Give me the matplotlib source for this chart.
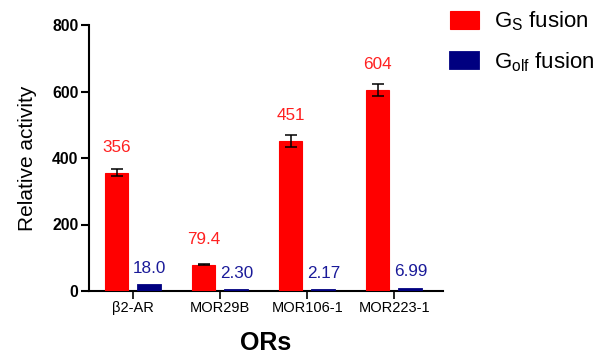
import matplotlib
matplotlib.use("Agg")
import matplotlib.pyplot as plt
import numpy as np

# Receptor constructs and measured activities
receptors = ["\u03b22-AR", "MOR29B", "MOR106-1", "MOR223-1"]
gs_values = [356, 79.4, 451, 604]
gs_errors = [10, 2, 17, 18]
golf_values = [18.0, 2.30, 2.17, 6.99]
gs_labels = ["356", "79.4", "451", "604"]
golf_labels = ["18.0", "2.30", "2.17", "6.99"]
yticks = [0, 200, 400, 600, 800]

plt.rcParams["font.family"] = ["Liberation Sans", "DejaVu Sans"]
plt.rcParams["mathtext.fontset"] = "custom"
plt.rcParams["mathtext.rm"] = "Liberation Sans"

RED = "#ff0000"
NAVY = "#000080"

fig = plt.figure(figsize=(5.97, 3.55), dpi=100)
ax = fig.add_axes([89 / 597, 1 - 291 / 355, (443 - 89) / 597, (291 - 25) / 355])

x = np.arange(len(receptors))
w = 0.265
off = 0.19

ax.bar(x - off, gs_values, w, color=RED, edgecolor=RED, linewidth=0.8,
       label=r"G$_\mathregular{S}$ fusion", zorder=3)
ax.bar(x + off, golf_values, w, color=NAVY, edgecolor=NAVY, linewidth=1.3,
       label=r"G$_\mathregular{olf}$ fusion", zorder=3)
ax.errorbar(x - off, gs_values, yerr=gs_errors, fmt="none", ecolor="black",
            elinewidth=1.1, capsize=4.6, capthick=1.1, zorder=4)

# value annotations above the bars
for xi, v, t in zip(x - off, gs_values, gs_labels):
    ax.annotate(t, (xi, v), xytext=(0, 15), textcoords="offset points",
                ha="center", va="baseline", color="#ff2020", fontsize=12.3)
for xi, v, t in zip(x + off, golf_values, golf_labels):
    ax.annotate(t, (xi, v), xytext=(0, 9), textcoords="offset points",
                ha="center", va="baseline", color="#1a1a99", fontsize=12.3)

ax.set_xlim(-0.51, 3.56)
ax.set_ylim(0, 800)
ax.set_yticks(yticks)
ax.set_xticks(x)
ax.set_xticklabels(receptors, fontsize=10.5)
for lab in ax.get_yticklabels():
    lab.set_fontweight("bold")
    lab.set_fontsize(11.3)

for side in ("top", "right"):
    ax.spines[side].set_visible(False)
for side in ("left", "bottom"):
    ax.spines[side].set_linewidth(1.5)
    ax.spines[side].set_zorder(2)
ax.tick_params(axis="y", length=6, width=1.5, pad=1.5)
ax.tick_params(axis="x", length=5.5, width=1.2, pad=2)

ax.set_ylabel("Relative activity", fontsize=15, labelpad=11)
ax.set_xlabel("ORs", fontsize=18, fontweight="bold", labelpad=11)

ax.legend(loc="upper left", bbox_to_anchor=(441 / 597, 1 - 1 / 355),
          bbox_transform=fig.transFigure, frameon=False, fontsize=16,
          handlelength=1.3, handleheight=0.85, handletextpad=0.7,
          labelspacing=0.75, borderaxespad=0)

fig.savefig("out.png", dpi=100)
